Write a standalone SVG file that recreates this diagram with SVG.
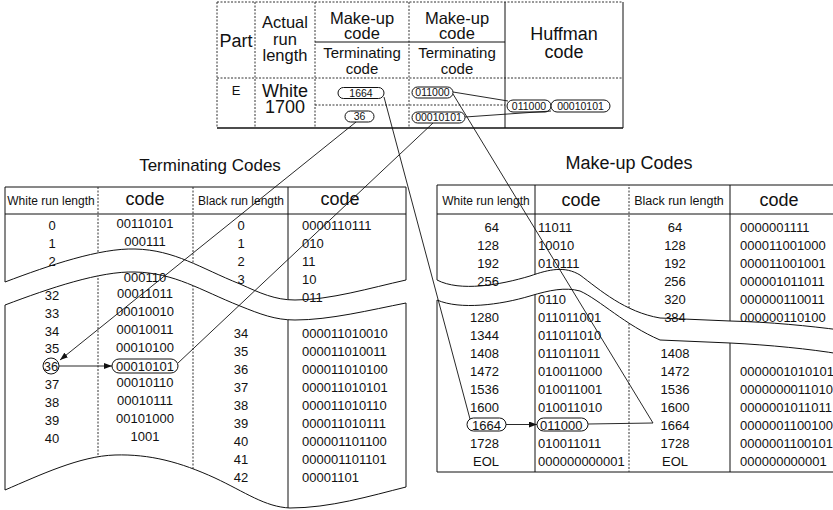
<svg xmlns="http://www.w3.org/2000/svg" width="833" height="510" viewBox="0 0 833 510">
<style>
text{font-family:"Liberation Sans",Arial,"DejaVu Sans",sans-serif;fill:#111}
.h{font-size:18px;text-anchor:middle}
.hm{font-size:16.5px;text-anchor:middle}
.hr{font-size:16.5px;text-anchor:middle}
.t{font-size:15px;text-anchor:middle}
.n{font-size:13px}
.m{text-anchor:middle}
.e{text-anchor:end}
.sm{font-size:12px;text-anchor:middle}
.ov{font-size:10.5px;text-anchor:middle}
.ttl{font-size:17px;text-anchor:middle}
.ln{fill:none;stroke:#111;stroke-width:1}
.dl{fill:none;stroke:#333;stroke-width:1;stroke-dasharray:2 1.5}
.cn{fill:none;stroke:#111;stroke-width:0.9}
.oval{fill:#fff;stroke:#111;stroke-width:1}
.ring{fill:none;stroke:#111;stroke-width:1}
</style>
<defs>
<marker id="arr" markerWidth="8" markerHeight="6" refX="8" refY="3" orient="auto" markerUnits="userSpaceOnUse">
<path d="M0,0 L8,3 L0,6 z" fill="#111"/>
</marker>
<clipPath id="clipT" clipPathUnits="userSpaceOnUse">
<path d="M5,187 H406 V280 C370,288 330,300 295,300 C275,300 260,293 240,284 C200,268 175,250 135,249 C100,248 50,265 5,282 Z"/>
<path d="M5,305 C50,288 100,271 135,272 C175,273 200,290 240,306 C260,314 275,320 295,320 C330,320 370,310 406,303 V487 C370,496 330,508 290,508 C265,507 245,492 215,478 C180,462 150,454 115,455 C80,456 40,475 5,490 Z"/>
</clipPath>
<clipPath id="clipM" clipPathUnits="userSpaceOnUse">
<path d="M437,185 H840 V330 C810,326 770,322 730,321 L660,318 C625,312 600,290 580,275 C565,266 550,269 530,276 C500,285 460,292 437,280 Z"/>
<path d="M437,300 C460,310 500,305 530,296 C550,290 565,287 580,291 C600,300 625,325 660,340 L730,343 C770,345 810,349 840,354 V472 H437 Z"/>
</clipPath>
</defs>

<g id="top-table">
<path class="dl" d="M217,2 H623 M217,2 V128 M255,2 V128 M315,2 V128 M409,2 V128 M217,78 H623 M315,105 H505"/>
<path class="ln" d="M623,2 V128 M505,2 V128 M315,42 H505"/>
<path d="M217,128 H623" stroke="#111" stroke-width="1.6"/>
<text class="h" x="236" y="47">Part</text>
<text class="hr" x="285" y="28">Actual</text>
<text class="hr" x="285" y="45">run</text>
<text class="hr" x="285" y="61">length</text>
<text class="hm" x="362" y="23.5">Make-up</text>
<text class="hm" x="362" y="38.5">code</text>
<text class="t" x="362" y="57.5">Terminating</text>
<text class="t" x="362" y="74">code</text>
<text class="hm" x="457" y="23.5">Make-up</text>
<text class="hm" x="457" y="38.5">code</text>
<text class="t" x="457" y="57.5">Terminating</text>
<text class="t" x="457" y="74">code</text>
<text class="h" x="564" y="40">Huffman</text>
<text class="h" x="564" y="58">code</text>
<text class="n m" x="236" y="95">E</text>
<text class="h" x="285" y="97">White</text>
<text class="h" x="285" y="113">1700</text>
<rect class="oval" x="338" y="87.5" width="46" height="11" rx="5.5"/>
<text class="ov" x="361" y="96.5">1664</text>
<rect class="oval" x="345" y="111" width="29" height="11" rx="5.5"/>
<text class="ov" x="359.5" y="120">36</text>
<rect class="oval" x="412" y="87" width="41" height="11" rx="5.5"/>
<text class="ov" x="432.5" y="96">011000</text>
<rect class="oval" x="412" y="112" width="53" height="11" rx="5.5"/>
<text class="ov" x="438.5" y="121">00010101</text>
<rect class="oval" x="507" y="100" width="44" height="12" rx="6"/>
<text class="ov" x="529" y="109.8">011000</text>
<rect class="oval" x="551" y="100" width="59" height="12" rx="6"/>
<text class="ov" x="580.5" y="109.8">00010101</text>
</g>

<g id="terminating-title">
<text class="ttl" x="210" y="171">Terminating Codes</text>
</g>

<g id="terminating-table">
<path class="ln" d="M5,187 H406 V280 C370,288 330,300 295,300 C275,300 260,293 240,284 C200,268 175,250 135,249 C100,248 50,265 5,282 Z"/>
<path class="ln" d="M5,305 C50,288 100,271 135,272 C175,273 200,290 240,306 C260,314 275,320 295,320 C330,320 370,310 406,303 V487 C370,496 330,508 290,508 C265,507 245,492 215,478 C180,462 150,454 115,455 C80,456 40,475 5,490 Z"/>
<g clip-path="url(#clipT)">
<path class="dl" d="M98,180 V510 M193,180 V510"/>
<path class="ln" d="M288,180 V510 M0,214 H410"/>
</g>
<text class="sm" x="51" y="204.5">White run length</text>
<text class="h" x="145" y="205">code</text>
<text class="sm" x="241" y="204.5">Black run length</text>
<text class="h" x="340" y="205">code</text>
<g class="n m">
<text x="52" y="229.5">0</text><text x="145" y="228">00110101</text>
<text x="52" y="247.5">1</text><text x="145" y="246">000111</text>
<text x="52" y="265.5">2</text>
<text x="145" y="281.5">000110</text>
<text x="52" y="299.5">32</text><text x="145" y="298">00011011</text>
<text x="52" y="317.5">33</text><text x="145" y="316">00010010</text>
<text x="52" y="335.5">34</text><text x="145" y="334">00010011</text>
<text x="52" y="353">35</text><text x="145" y="351.5">00010100</text>
<text x="51" y="370.5">36</text>
<text x="52" y="388.5">37</text><text x="145" y="387">00010110</text>
<text x="52" y="406.5">38</text><text x="145" y="405">00010111</text>
<text x="52" y="424.5">39</text><text x="145" y="423">00101000</text>
<text x="52" y="442.5">40</text><text x="145" y="441">1001</text>
<text x="241" y="229.5">0</text>
<text x="241" y="247.5">1</text>
<text x="241" y="265.5">2</text>
<text x="241" y="283.5">3</text>
<text x="241" y="337.5">34</text>
<text x="241" y="355.5">35</text>
<text x="241" y="373.5">36</text>
<text x="241" y="391.5">37</text>
<text x="241" y="409.5">38</text>
<text x="241" y="427.5">39</text>
<text x="241" y="445.5">40</text>
<text x="241" y="463.5">41</text>
<text x="241" y="481.5">42</text>
</g>
<g class="n">
<text x="302" y="229.5">0000110111</text>
<text x="302" y="247.5">010</text>
<text x="302" y="265.5">11</text>
<text x="302" y="283.5">10</text>
<text x="302" y="301.5">011</text>
<text x="302" y="337.5">000011010010</text>
<text x="302" y="355.5">000011010011</text>
<text x="302" y="373.5">000011010100</text>
<text x="302" y="391.5">000011010101</text>
<text x="302" y="409.5">000011010110</text>
<text x="302" y="427.5">000011010111</text>
<text x="302" y="445.5">000001101100</text>
<text x="302" y="463.5">000001101101</text>
<text x="302" y="481.5">00001101</text>
</g>
<circle class="ring" cx="51" cy="366" r="8"/>
<rect class="ring" x="112" y="359" width="66" height="14" rx="7"/>
<text class="n m" x="145" y="370.5">00010101</text>
</g>

<g id="makeup-title">
<text class="ttl" x="629" y="169" style="font-size:18px">Make-up Codes</text>
</g>

<g id="makeup-table">
<path class="ln" d="M437,185 H840 V330 C810,326 770,322 730,321 L660,318 C625,312 600,290 580,275 C565,266 550,269 530,276 C500,285 460,292 437,280 Z"/>
<path class="ln" d="M437,300 C460,310 500,305 530,296 C550,290 565,287 580,291 C600,300 625,325 660,340 L730,343 C770,345 810,349 840,354 V472 H437 Z"/>
<g clip-path="url(#clipM)">
<path class="ln" d="M535,180 V480 M730,180 V480 M430,214 H840"/>
<path class="dl" d="M629,180 V480"/>
</g>
<text class="sm" x="486" y="204.5">White run length</text>
<text class="h" x="581" y="205.5">code</text>
<text class="sm" x="679" y="204.5" style="font-size:12.5px">Black run length</text>
<text class="h" x="779" y="205.5">code</text>
<g class="n e">
<text x="499" y="231.5">64</text>
<text x="499" y="249.5">128</text>
<text x="499" y="267.5">192</text>
<text x="499" y="285.5">256</text>
<text x="499" y="321.5">1280</text>
<text x="499" y="339.5">1344</text>
<text x="499" y="357.5">1408</text>
<text x="499" y="375.5">1472</text>
<text x="499" y="393.5">1536</text>
<text x="499" y="411.5">1600</text>
<text x="499" y="447.5">1728</text>
<text x="499" y="465.5">EOL</text>
</g>
<g class="n">
<text x="538" y="231.5">11011</text>
<text x="538" y="249.5">10010</text>
<text x="538" y="267.5">010111</text>
<text x="538" y="303.5">0110</text>
<text x="538" y="321.5">011011001</text>
<text x="538" y="339.5">011011010</text>
<text x="538" y="357.5">011011011</text>
<text x="538" y="375.5">010011000</text>
<text x="538" y="393.5">010011001</text>
<text x="538" y="411.5">010011010</text>
<text x="538" y="447.5">010011011</text>
<text x="538" y="465.5">000000000001</text>
</g>
<g class="n m">
<text x="675" y="231.5">64</text>
<text x="675" y="249.5">128</text>
<text x="675" y="267.5">192</text>
<text x="675" y="285.5">256</text>
<text x="675" y="303.5">320</text>
<text x="675" y="321.5">384</text>
<text x="675" y="357.5">1408</text>
<text x="675" y="375.5">1472</text>
<text x="675" y="393.5">1536</text>
<text x="675" y="411.5">1600</text>
<text x="675" y="429.5">1664</text>
<text x="675" y="447.5">1728</text>
<text x="675" y="465.5">EOL</text>
</g>
<g class="n">
<text x="740" y="231.5">0000001111</text>
<text x="740" y="249.5">000011001000</text>
<text x="740" y="267.5">000011001001</text>
<text x="740" y="285.5">000001011011</text>
<text x="740" y="303.5">000000110011</text>
<text x="740" y="321.5">000000110100</text>
<text x="740" y="375.5">0000001010101</text>
<text x="740" y="393.5">0000000011010</text>
<text x="740" y="411.5">0000001011011</text>
<text x="740" y="429.5">0000001100100</text>
<text x="740" y="447.5">0000001100101</text>
<text x="740" y="465.5">000000000001</text>
</g>
<rect class="ring" x="467" y="418" width="39" height="13" rx="6.5"/>
<text class="n m" x="486.5" y="429.5">1664</text>
<rect class="ring" x="537" y="418" width="51" height="13" rx="6.5"/>
<text class="n" x="540" y="429.5">011000</text>
</g>

<g id="connectors">
<path class="cn" d="M453,92 L508,101"/>
<path class="cn" d="M465,117 L551,111"/>
<path class="cn" d="M384,97 L470,419"/>
<path class="cn" d="M356,122 L60,360" marker-end="url(#arr)"/>
<path class="cn" d="M433,123 L178,363"/>
<path class="cn" d="M453,94 L653,423 L588,424"/>
<path class="cn" d="M59,366 L112,366" marker-end="url(#arr)"/>
<path class="cn" d="M506,424.5 L537,424.5" marker-end="url(#arr)"/>
</g>
</svg>
